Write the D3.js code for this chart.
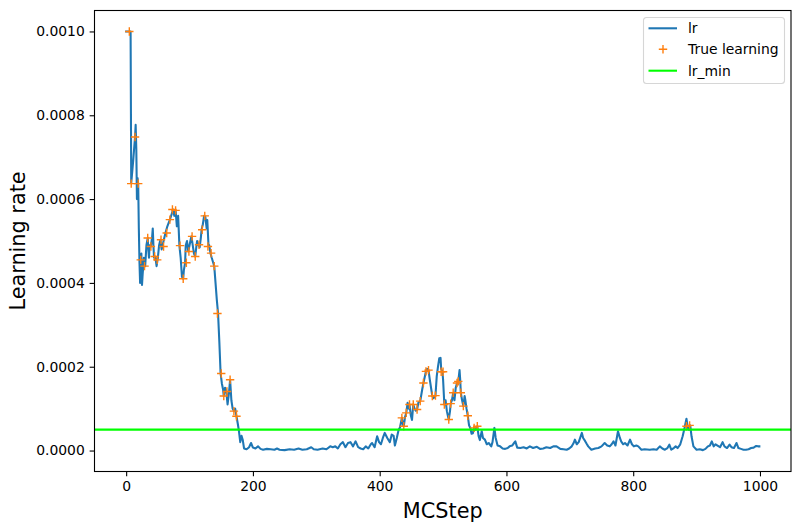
<!DOCTYPE html>
<html>
<head>
<meta charset="utf-8">
<script src="https://cdn.jsdelivr.net/npm/d3@7"></script>
<style>
  body { margin: 0; background: #fff; }
  text { font-family: "DejaVu Sans", sans-serif; }
</style>
</head>
<body>
<svg width="801" height="531"></svg>
<script>
// learning rate trace (step, value)
const lrSteps = [0,7,8,11,14,15,16,17,18,19,20,21,22,23,24,25,26,28,30,32,34,35,36,37,39,41,42,43,44,46,48,50,52,54,56,57,59,62,65,69,72,74,76,78,80,82,84,86,88,90,91,93,94,96,98,100,102,103,105,107,109,111,112,114,116,118,119,121,123,125,127,128,130,131,133,135,137,139,141,143,145,147,149,151,153,154,156,158,160,162,164,166,168,170,172,174,176,178,180,182,184,186,190,194,197,200,204,208,212,216,222,228,234,238,242,250,258,265,272,278,285,292,296,302,310,316,322,326,330,334,338,342,346,350,354,358,362,366,370,374,378,382,386,388,392,396,399,402,405,408,412,416,419,422,424,427,430,432,435,437,438,440,442,444,446,447,449,451,453,455,457,459,461,464,467,469,471,473,475,477,479,480,482,483,485,488,490,492,494,496,497,499,500,502,504,506,508,509,511,512,514,516,518,520,522,524,526,527,528,530,532,534,535,537,539,541,543,545,547,549,551,554,556,558,561,563,566,569,572,576,578,581,583,586,590,594,598,602,605,609,612,614,617,622,627,632,637,642,648,653,658,663,669,674,679,685,690,695,699,703,706,708,711,714,719,721,724,727,729,734,740,745,750,755,759,763,766,769,772,776,779,781,784,787,791,795,798,801,805,808,813,818,826,832,837,842,846,850,854,857,860,864,867,870,874,878,881,884,886,888,890,892,895,900,905,910,914,918,921,924,927,930,933,937,941,944,948,952,955,959,963,966,970,974,978,982,986,990,994,997,999]
const lrValues = [10.0e-4,10.0e-4,6.38e-4,6.9e-4,7.48e-4,7.77e-4,7.2e-4,6.0e-4,6.5e-4,6.37e-4,5.3e-4,4.5e-4,4.0e-4,4.55e-4,4.7e-4,3.95e-4,4.2e-4,4.6e-4,4.4e-4,4.9e-4,5.07e-4,4.8e-4,4.6e-4,4.9e-4,4.87e-4,5.1e-4,5.3e-4,4.9e-4,4.6e-4,4.63e-4,4.4e-4,4.6e-4,4.9e-4,5.03e-4,4.8e-4,4.87e-4,5.0e-4,5.19e-4,5.35e-4,5.51e-4,5.65e-4,5.75e-4,5.6e-4,5.73e-4,5.35e-4,5.6e-4,4.89e-4,4.6e-4,4.15e-4,4.1e-4,4.3e-4,4.48e-4,4.9e-4,5.0e-4,4.75e-4,4.9e-4,5.05e-4,5.11e-4,4.9e-4,4.7e-4,4.63e-4,4.9e-4,5.0e-4,4.91e-4,4.85e-4,5.1e-4,5.27e-4,5.4e-4,5.6e-4,5.57e-4,5.3e-4,5.5e-4,4.87e-4,4.9e-4,4.71e-4,4.6e-4,4.5e-4,4.4e-4,4.0e-4,3.6e-4,3.27e-4,2.6e-4,1.84e-4,1.6e-4,1.45e-4,1.3e-4,1.5e-4,1.41e-4,1.1e-4,1.35e-4,1.69e-4,1.2e-4,1.0e-4,0.94e-4,1.0e-4,0.82e-4,0.65e-4,0.46e-4,0.2e-4,0.35e-4,0.25e-4,0.05e-4,0.03e-4,0.08e-4,0.18e-4,0.07e-4,0.05e-4,0.1e-4,0.04e-4,0.02e-4,0.04e-4,0.03e-4,0.02e-4,0.05e-4,0.02e-4,0.01e-4,0.03e-4,0.02e-4,0.05e-4,0.02e-4,0.03e-4,0.08e-4,0.03e-4,0.02e-4,0.05e-4,0.03e-4,0.1e-4,0.08e-4,0.1e-4,0.05e-4,0.15e-4,0.2e-4,0.08e-4,0.18e-4,0.2e-4,0.1e-4,0.22e-4,0.08e-4,0.05e-4,0.03e-4,0.1e-4,0.05e-4,0.15e-4,0.18e-4,0.08e-4,0.34e-4,0.2e-4,0.15e-4,0.3e-4,0.42e-4,0.3e-4,0.2e-4,0.38e-4,0.35e-4,0.12e-4,0.3e-4,0.5e-4,0.55e-4,0.78e-4,0.6e-4,0.58e-4,0.8e-4,0.9e-4,1.14e-4,1.0e-4,1.1e-4,0.85e-4,0.73e-4,1.1e-4,1.0e-4,0.95e-4,0.98e-4,1.14e-4,1.18e-4,1.45e-4,1.61e-4,1.75e-4,1.89e-4,1.95e-4,1.92e-4,1.7e-4,1.6e-4,1.4e-4,1.3e-4,1.25e-4,1.31e-4,1.77e-4,2.0e-4,2.2e-4,2.21e-4,1.95e-4,1.88e-4,1.7e-4,1.1e-4,1.2e-4,0.94e-4,0.8e-4,0.74e-4,0.95e-4,1.12e-4,1.2e-4,1.38e-4,1.2e-4,1.5e-4,1.61e-4,1.65e-4,1.92e-4,1.7e-4,1.38e-4,1.2e-4,1.06e-4,1.3e-4,1.22e-4,1.0e-4,0.83e-4,0.6e-4,0.54e-4,0.4e-4,0.41e-4,0.54e-4,0.5e-4,0.58e-4,0.35e-4,0.25e-4,0.46e-4,0.3e-4,0.26e-4,0.15e-4,0.18e-4,0.1e-4,0.2e-4,0.54e-4,0.3e-4,0.12e-4,0.1e-4,0.05e-4,0.04e-4,0.06e-4,0.1e-4,0.12e-4,0.18e-4,0.22e-4,0.07e-4,0.06e-4,0.08e-4,0.05e-4,0.1e-4,0.06e-4,0.09e-4,0.04e-4,0.05e-4,0.08e-4,0.06e-4,0.1e-4,0.1e-4,0.04e-4,0.03e-4,0.02e-4,0.05e-4,0.1e-4,0.18e-4,0.26e-4,0.15e-4,0.2e-4,0.42e-4,0.3e-4,0.23e-4,0.15e-4,0.1e-4,0.02e-4,0.05e-4,0.06e-4,0.1e-4,0.18e-4,0.12e-4,0.1e-4,0.15e-4,0.22e-4,0.12e-4,0.46e-4,0.3e-4,0.22e-4,0.15e-4,0.18e-4,0.12e-4,0.26e-4,0.15e-4,0.1e-4,0.12e-4,0.1e-4,0.02e-4,0.03e-4,0.02e-4,0.03e-4,0.02e-4,0.1e-4,0.05e-4,0.02e-4,0.06e-4,0.14e-4,0.02e-4,0.06e-4,0.1e-4,0.06e-4,0.14e-4,0.34e-4,0.54e-4,0.76e-4,0.55e-4,0.5e-4,0.6e-4,0.34e-4,0.1e-4,0.02e-4,0.03e-4,0.01e-4,0.04e-4,0.1e-4,0.12e-4,0.22e-4,0.1e-4,0.15e-4,0.12e-4,0.08e-4,0.2e-4,0.1e-4,0.06e-4,0.14e-4,0.08e-4,0.06e-4,0.18e-4,0.06e-4,0.04e-4,0.02e-4,0.02e-4,0.03e-4,0.06e-4,0.07e-4,0.11e-4,0.1e-4,0.1e-4]

// "True learning" markers
const markSteps = [5,8,14,19,23,29,34,39,45,49,55,59,64,69,73,78,85,90,95,99,104,109,115,120,124,129,134,139,144,150,154,159,164,170,174,435,438,442,447,453,459,464,469,473,477,483,488,497,500,502,509,512,516,522,524,528,532,539,549,554,884,889]
const markValues = [10.0e-4,6.37e-4,7.48e-4,6.37e-4,4.55e-4,4.4e-4,5.07e-4,4.87e-4,4.63e-4,4.55e-4,5.03e-4,4.87e-4,5.19e-4,5.51e-4,5.75e-4,5.73e-4,4.89e-4,4.1e-4,4.48e-4,4.75e-4,5.11e-4,4.63e-4,4.91e-4,5.27e-4,5.6e-4,4.87e-4,4.71e-4,4.4e-4,3.27e-4,1.84e-4,1.3e-4,1.41e-4,1.69e-4,0.94e-4,0.82e-4,0.78e-4,0.58e-4,0.9e-4,1.1e-4,1.1e-4,0.98e-4,1.18e-4,1.61e-4,1.89e-4,1.92e-4,1.3e-4,1.31e-4,1.88e-4,1.88e-4,1.1e-4,0.74e-4,1.12e-4,1.38e-4,1.61e-4,1.65e-4,1.38e-4,1.06e-4,0.83e-4,0.54e-4,0.58e-4,0.58e-4,0.6e-4]

const lrMin = 5e-5
const yTicks = [0, 0.0002, 0.0004, 0.0006, 0.0008, 0.0010]
const xTicks = [0, 200, 400, 600, 800, 1000]

const margin = {left: 94.5, right: 791, top: 10.5, bottom: 471.5}
const svg = d3.select("svg")

const x = d3.scaleLinear().domain([-49.95, 1048.95]).range([margin.left, margin.right])
const y = d3.scaleLinear().domain([-0.00005, 0.00105]).range([margin.bottom, margin.top])

svg.append("clipPath").attr("id", "clip")
  .append("rect")
  .attr("x", margin.left).attr("y", margin.top)
  .attr("width", margin.right - margin.left).attr("height", margin.bottom - margin.top)

const plot = svg.append("g").attr("clip-path", "url(#clip)")

const lrData = lrSteps.map((s, i) => ({s, v: lrValues[i]}))
const line = d3.line().x(d => x(d.s)).y(d => y(d.v))

plot.append("path")
  .datum(lrData)
  .attr("d", line)
  .attr("fill", "none")
  .attr("stroke", "#1f77b4")
  .attr("stroke-width", 2.08)
  .attr("stroke-linejoin", "round")
  .attr("stroke-linecap", "square")

const marks = markSteps.map((s, i) => ({s, v: markValues[i]}))
const plus = d3.symbol().type(d3.symbolCross)
plot.selectAll("path.mark")
  .data(marks)
  .enter().append("path")
  .attr("class", "mark")
  .attr("d", "M-4.2,0H4.2M0,-4.2V4.2")
  .attr("transform", d => `translate(${x(d.s)},${y(d.v)})`)
  .attr("stroke", "#ff7f0e")
  .attr("stroke-width", 1.4)
  .attr("fill", "none")

plot.append("line")
  .attr("x1", margin.left).attr("x2", margin.right)
  .attr("y1", y(lrMin)).attr("y2", y(lrMin))
  .attr("stroke", "#00ff00")
  .attr("stroke-width", 2.08)

// axes
const xAxis = d3.axisBottom(x).tickValues(xTicks).tickSize(4.86).tickPadding(4.86).tickFormat(d3.format("d"))
const yAxis = d3.axisLeft(y).tickValues(yTicks).tickSize(4.86).tickPadding(4.86).tickFormat(d3.format(".4f"))

const gx = svg.append("g").attr("transform", `translate(0,${margin.bottom})`).call(xAxis)
const gy = svg.append("g").attr("transform", `translate(${margin.left},0)`).call(yAxis)
;[gx, gy].forEach(g => {
  g.select(".domain").remove()
  g.selectAll("line").attr("stroke", "#000").attr("stroke-width", 1.1)
  g.selectAll("text").attr("fill", "#000").style("font-size", "13.9px").style("font-family", "DejaVu Sans")
})

svg.append("rect")
  .attr("x", margin.left).attr("y", margin.top)
  .attr("width", margin.right - margin.left).attr("height", margin.bottom - margin.top)
  .attr("fill", "none").attr("stroke", "#000").attr("stroke-width", 1.1)

svg.append("text")
  .attr("x", (margin.left + margin.right) / 2).attr("y", 518)
  .attr("text-anchor", "middle")
  .style("font-size", "20.8px")
  .text("MCStep")

svg.append("text")
  .attr("transform", `translate(25,${(margin.top + margin.bottom) / 2}) rotate(-90)`)
  .attr("text-anchor", "middle")
  .style("font-size", "20.8px")
  .text("Learning rate")

// legend
const lg = svg.append("g").attr("transform", "translate(643.5,17.5)")
lg.append("rect")
  .attr("width", 141).attr("height", 66).attr("rx", 3)
  .attr("fill", "#fff").attr("fill-opacity", 0.8)
  .attr("stroke", "#d6d6d6").attr("stroke-width", 1.1)

const legendItems = ["lr", "True learning", "lr_min"]
const legendY = [10.8, 31.8, 53.2]
legendItems.forEach((name, i) => {
  const cy = legendY[i]
  if (i === 1) {
    lg.append("path").attr("d", "M-4.2,0H4.2M0,-4.2V4.2")
      .attr("transform", `translate(19.5,${cy})`)
      .attr("stroke", "#ff7f0e").attr("stroke-width", 1.4)
  } else {
    lg.append("line").attr("x1", 5).attr("x2", 33.5).attr("y1", cy).attr("y2", cy)
      .attr("stroke", i === 0 ? "#1f77b4" : "#00ff00").attr("stroke-width", 2.08)
  }
  lg.append("text").attr("x", 44.5).attr("y", cy + 4.9)
    .style("font-size", "13.9px")
    .text(name)
})
</script>
</body>
</html>
